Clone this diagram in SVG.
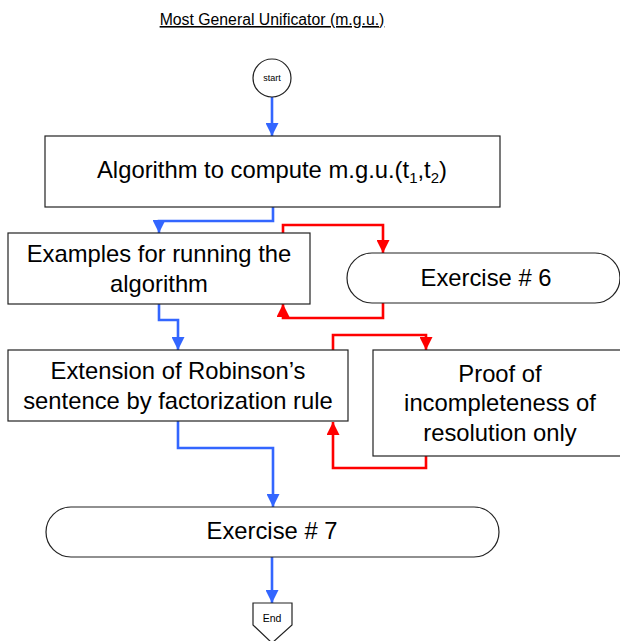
<svg xmlns="http://www.w3.org/2000/svg" width="620" height="641" viewBox="0 0 620 641">
<style>
text{font-family:"Liberation Sans",Arial,sans-serif;fill:#000}
.box{fill:#fff;stroke:#222;stroke-width:1.2}
.lbl{font-size:23.8px;text-anchor:middle}
.blue{fill:none;stroke:#3366ff;stroke-width:2.6}
.red{fill:none;stroke:#ff0000;stroke-width:2.6}
</style>
<defs>
<marker id="ab" viewBox="0 0 10 10" refX="10" refY="5" markerWidth="5" markerHeight="5" markerUnits="strokeWidth" orient="auto"><path d="M0,0 L10,5 L0,10 z" fill="#3366ff"/></marker>
<marker id="ar" viewBox="0 0 10 10" refX="10" refY="5" markerWidth="5" markerHeight="5" markerUnits="strokeWidth" orient="auto"><path d="M0,0 L10,5 L0,10 z" fill="#ff0000"/></marker>
</defs>
<rect width="620" height="641" fill="#fff"/>
<text x="272" y="25" font-size="15.8" text-anchor="middle" text-decoration="underline">Most General Unificator (m.g.u.)</text>

<g id="connectors">
<path class="blue" d="M272,97 V136" marker-end="url(#ab)"/>
<path class="blue" d="M273,207 V221 H159 V233" marker-end="url(#ab)"/>
<path class="red" d="M283,233 V225 H383 V253" marker-end="url(#ar)"/>
<path class="red" d="M383,303 V318 H283 V304" marker-end="url(#ar)"/>
<path class="blue" d="M159,304 V320 H178 V350" marker-end="url(#ab)"/>
<path class="red" d="M333,350 V335 H426 V350" marker-end="url(#ar)"/>
<path class="red" d="M426,456 V468 H333 V422" marker-end="url(#ar)"/>
<path class="blue" d="M178,421 V448 H273 V507" marker-end="url(#ab)"/>
<path class="blue" d="M272,557 V603" marker-end="url(#ab)"/>
</g>

<g id="start">
<circle cx="272" cy="78" r="19" class="box"/>
<text x="272" y="81" font-size="9" text-anchor="middle">start</text>
</g>

<g id="algorithm">
<rect x="45" y="136" width="455" height="71" class="box"/>
<text x="272" y="178" class="lbl">Algorithm to compute m.g.u.(t<tspan font-size="15" dy="5">1</tspan><tspan dy="-5">,t</tspan><tspan font-size="15" dy="5">2</tspan><tspan dy="-5">)</tspan></text>
</g>

<g id="examples">
<rect x="8" y="233" width="302" height="71" class="box"/>
<text x="159" y="262" class="lbl">Examples for running the</text>
<text x="159" y="292" class="lbl">algorithm</text>
</g>

<g id="exercise6">
<rect x="347" y="253" width="273" height="50" rx="25" ry="25" class="box"/>
<text x="486" y="286" class="lbl">Exercise # 6</text>
</g>

<g id="extension">
<rect x="8" y="350" width="340" height="71" class="box"/>
<text x="178" y="379" class="lbl">Extension of Robinson’s</text>
<text x="178" y="409" class="lbl">sentence by factorization rule</text>
</g>

<g id="proof">
<rect x="373" y="350" width="260" height="106" class="box"/>
<text x="500" y="382" class="lbl">Proof of</text>
<text x="500" y="411" class="lbl">incompleteness of</text>
<text x="500" y="441" class="lbl">resolution only</text>
</g>

<g id="exercise7">
<rect x="46" y="507" width="453" height="50" rx="25" ry="25" class="box"/>
<text x="272" y="539" class="lbl">Exercise # 7</text>
</g>

<g id="end">
<path d="M253,603 H292 V625 L272,643 L253,625 Z" class="box"/>
<text x="272" y="622" font-size="10.5" text-anchor="middle">End</text>
</g>
</svg>
